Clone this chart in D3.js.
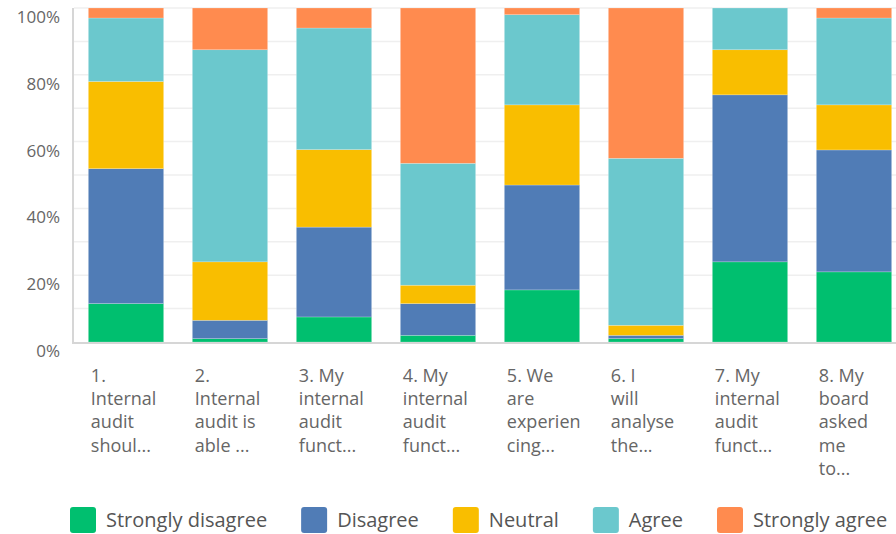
<!DOCTYPE html>
<html>
<head>
<meta charset="utf-8">
<script src="https://cdn.jsdelivr.net/npm/d3@7"></script>
<style>
  body { margin: 0; background: #fff; }
  svg text { font-family: "Open Sans", sans-serif; fill: #666; }
</style>
</head>
<body>
<svg id="mainSVG" width="896" height="534"></svg>
<script>
// questions, already cut the way the survey tool shows them
const questions = [
    ["1.", "Internal", "audit", "shoul..."],
    ["2.", "Internal", "audit is", "able ..."],
    ["3. My", "internal", "audit", "funct..."],
    ["4. My", "internal", "audit", "funct..."],
    ["5. We", "are", "experien", "cing..."],
    ["6. I", "will", "analyse", "the..."],
    ["7. My", "internal", "audit", "funct..."],
    ["8. My", "board", "asked", "me", "to..."]
]
const answers = ["Strongly disagree", "Disagree", "Neutral", "Agree", "Strongly agree"]
const colors = ["#00bf6f", "#507cb6", "#f9be00", "#6bc8cd", "#ff8b4f"]

// percent per answer, one value per question
const stronglyDisagree = [11.5, 1, 7.5, 2, 15.6, 1, 24, 21]
const disagree = [40.4, 5.5, 26.9, 9.5, 31.4, 1, 50, 36.5]
const neutral = [26.1, 17.5, 23.2, 5.5, 24, 3, 13.5, 13.5]
const agree = [19, 63.5, 36.4, 36.5, 27, 50, 12.5, 26]
const stronglyAgree = [3, 12.5, 6, 46.5, 2, 45, 0, 3]

const yTicks = [0, 20, 40, 60, 80, 100]

const series = [stronglyDisagree, disagree, neutral, agree, stronglyAgree]
const rows = questions.map((q, i) => {
    const r = {key: i}
    answers.forEach((a, j) => r[a] = series[j][i])
    return r
})
const stacked = d3.stack().keys(answers)(rows)

const svg = d3.select("#mainSVG")
const plotTop = 8, plotBottom = 342, plotLeft = 74

const x = d3.scaleBand()
    .domain(d3.range(questions.length))
    .range([plotLeft, plotLeft + 8 * 104])
    .paddingInner(0.276)
    .paddingOuter(0.138)

const y = d3.scaleLinear().domain([0, 100]).range([plotBottom, plotTop])

// grid every 10%
svg.append("g")
    .selectAll("line")
    .data(d3.range(10, 101, 10))
    .join("line")
    .attr("x1", plotLeft).attr("x2", 896)
    .attr("y1", d => y(d)).attr("y2", d => y(d))
    .attr("stroke", "#efefef")
    .attr("stroke-width", 1.5)

// tick labels hang just under their grid line
svg.append("g")
    .selectAll("text")
    .data(yTicks)
    .join("text")
    .attr("x", 60)
    .attr("y", d => y(d) + 15)
    .attr("text-anchor", "end")
    .style("font-size", "17px")
    .text(d => d + "%")

svg.append("line")
    .attr("x1", 73).attr("x2", 73)
    .attr("y1", plotTop).attr("y2", plotBottom)
    .attr("stroke", "#d6d6d6").attr("stroke-width", 2)

svg.append("g")
    .selectAll("g")
    .data(stacked)
    .join("g")
    .attr("fill", (d, i) => colors[i])
    .selectAll("rect")
    .data(d => d)
    .join("rect")
    .attr("x", (d, i) => x(i))
    .attr("width", x.bandwidth())
    .attr("y", d => y(d[1]))
    .attr("height", d => y(d[0]) - y(d[1]))
    .attr("stroke", "#fff")
    .attr("stroke-opacity", 0.35)
    .attr("stroke-width", 0.6)

svg.append("line")
    .attr("x1", 72).attr("x2", 896)
    .attr("y1", plotBottom + 1).attr("y2", plotBottom + 1)
    .attr("stroke", "#d6d6d6").attr("stroke-width", 2)

// category labels
const lab = svg.append("g")
    .selectAll("text")
    .data(questions)
    .join("text")
    .attr("x", (d, i) => x(i) + 2.5)
    .attr("y", 382)
    .style("font-size", "18px")

lab.selectAll("tspan")
    .data(d => d)
    .join("tspan")
    .attr("x", function () { return this.parentNode.getAttribute("x") })
    .attr("dy", (d, i) => i === 0 ? 0 : 23.2)
    .text(d => d)

// legend
const legend = svg.append("g")
let lx = 70
answers.forEach((a, i) => {
    legend.append("rect")
        .attr("x", lx).attr("y", 507)
        .attr("width", 26).attr("height", 26)
        .attr("rx", 3)
        .attr("fill", colors[i])
    const t = legend.append("text")
        .attr("x", lx + 36).attr("y", 520)
        .attr("dy", "0.35em")
        .style("font-size", "20px")
        .style("fill", "#555")
        .text(a)
    lx += 36 + t.node().getComputedTextLength() + 34
})
</script>
</body>
</html>
